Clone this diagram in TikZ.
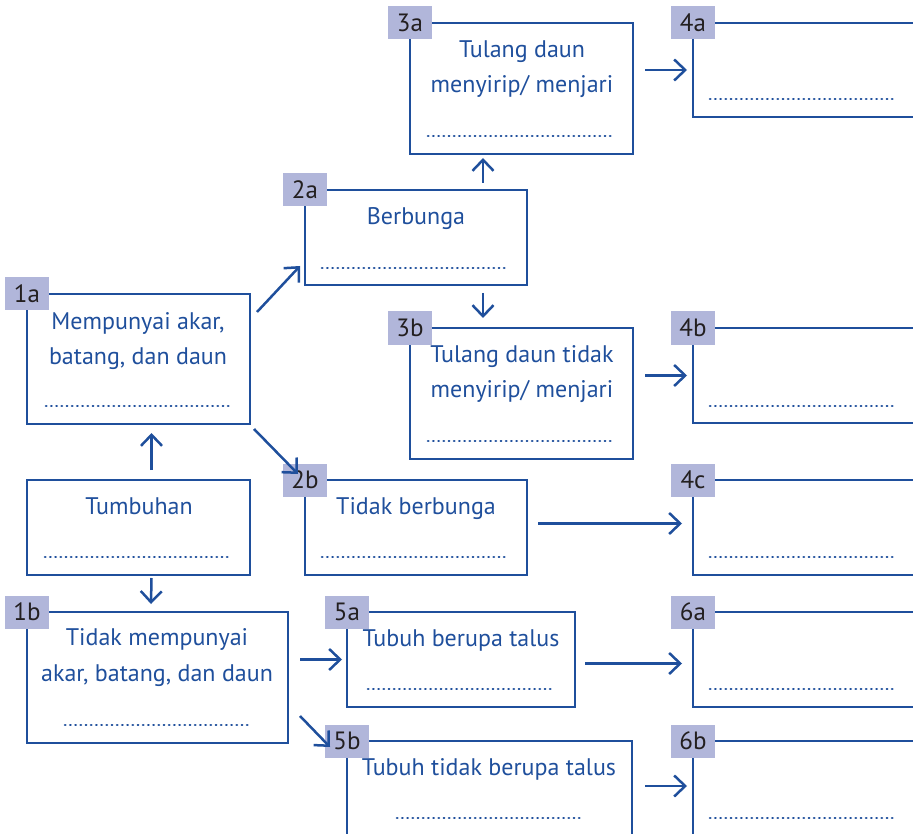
\documentclass[tikz,border=0pt]{standalone}
\usepackage{fontspec}
\setmainfont{PT Sans}
\usetikzlibrary{arrows.meta,calc}
\definecolor{bblue}{HTML}{1F4F9C}
\definecolor{lav}{HTML}{B1B6DA}
\definecolor{lbltxt}{HTML}{231F20}
\begin{document}
\begin{tikzpicture}[x=1pt,y=-1pt,
  box/.style={draw=bblue,line width=2.8pt,rectangle,inner sep=0pt,outer sep=0pt,anchor=north west},
  lbl/.style={fill=lav,minimum width=44pt,minimum height=33pt,inner sep=0pt,text=lbltxt,font=\fontsize{25}{28}\selectfont},
  txt/.style={text=bblue,anchor=base,inner sep=0pt,font=\fontsize{24}{28}\selectfont},
  dots/.style={draw=bblue,line width=2.6pt,line cap=round,dash pattern=on 0.4pt off 4.8pt},
  arr/.style={draw=bblue,line width=2.5pt,-{Straight Barb[length=11pt,width=21pt,line width=2.5pt]}}]
\useasboundingbox (0,0) rectangle (913,834);
\clip (0,0) rectangle (913,834);
% boxes
\node[box,minimum width=223pt,minimum height=131pt] (b3a) at (410,23) {};
\node[box,minimum width=240pt,minimum height=94pt] (b4a) at (693,23) {};
\node[box,minimum width=222pt,minimum height=95pt] (b2a) at (305,190) {};
\node[box,minimum width=223pt,minimum height=130pt] (b1a) at (27,294) {};
\node[box,minimum width=223pt,minimum height=131pt] (b3b) at (410,328) {};
\node[box,minimum width=240pt,minimum height=95pt] (b4b) at (693,328) {};
\node[box,minimum width=223pt,minimum height=95pt] (b0) at (27,480) {};
\node[box,minimum width=222pt,minimum height=95pt] (b2b) at (305,480) {};
\node[box,minimum width=240pt,minimum height=95pt] (b4c) at (693,480) {};
\node[box,minimum width=261pt,minimum height=131pt] (b1b) at (27,612) {};
\node[box,minimum width=228pt,minimum height=95pt] (b5a) at (347,612) {};
\node[box,minimum width=240pt,minimum height=95pt] (b6a) at (693,612) {};
\node[box,minimum width=285pt,minimum height=131pt] (b5b) at (347,741) {};
\node[box,minimum width=240pt,minimum height=100pt] (b6b) at (693,741) {};
% labels
\node[lbl] (l3a) at (b3a.north west) {3a};
\node[lbl] (l4a) at (b4a.north west) {4a};
\node[lbl] (l2a) at (b2a.north west) {2a};
\node[lbl] (l1a) at (b1a.north west) {1a};
\node[lbl] (l3b) at (b3b.north west) {3b};
\node[lbl] (l4b) at (b4b.north west) {4b};
\node[lbl] (l2b) at (b2b.north west) {2b};
\node[lbl] (l4c) at (b4c.north west) {4c};
\node[lbl] (l1b) at (b1b.north west) {1b};
\node[lbl] (l5a) at (b5a.north west) {5a};
\node[lbl] (l6a) at (b6a.north west) {6a};
\node[lbl] (l5b) at (b5b.north west) {5b};
\node[lbl] (l6b) at (b6b.north west) {6b};
% texts
\node[txt] (t3a1) at (522,58) {Tulang daun};
\node[txt] (t3a2) at (522,93) {menyirip/ menjari};
\node[txt] (t2a) at (416,225) {Berbunga};
\node[txt] (t1a1) at (138,330) {Mempunyai akar,};
\node[txt] (t1a2) at (138,364) {batang, dan daun};
\node[txt] (t3b1) at (522,362) {Tulang daun tidak};
\node[txt] (t3b2) at (522,397) {menyirip/ menjari};
\node[txt] (t0) at (139,514) {Tumbuhan};
\node[txt] (t2b) at (416,514) {Tidak berbunga};
\node[txt] (t1b1) at (157,645) {Tidak mempunyai};
\node[txt] (t1b2) at (157,681) {akar, batang, dan daun};
\node[txt] (t5a) at (461,646) {Tubuh berupa talus};
\node[txt] (t5b) at (489,775) {Tubuh tidak berupa talus};
% dotted lines
\draw[dots] (428,136) -- (615,136);
\draw[dots] (710,99) -- (897,99);
\draw[dots] (322,268) -- (509,268);
\draw[dots] (46,406) -- (232,406);
\draw[dots] (428,441) -- (615,441);
\draw[dots] (710,406) -- (897,406);
\draw[dots] (45,557) -- (232,557);
\draw[dots] (322,557) -- (509,557);
\draw[dots] (710,557) -- (897,557);
\draw[dots] (65,725) -- (252,725);
\draw[dots] (368,689) -- (555,689);
\draw[dots] (710,689) -- (897,689);
\draw[dots] (397,818) -- (583,818);
\draw[dots] (710,818) -- (897,818);
% arrows
\draw[arr,shorten <=12pt,shorten >=6pt] (b3a.east |- b4a.west) -- (b4a.west);
\draw[arr,shorten <=7pt,shorten >=4pt] ($(b2a.north west)+(178,0)$) -- ($(b3a.south west)+(73,0)$);
\draw[arr,shorten <=8pt,shorten >=10pt] ($(b2a.south west)+(178,0)$) -- ($(b3b.north west)+(73,0)$);
\draw[arr,shorten <=12pt,shorten >=6pt] (b3b.east |- b4b.west) -- (b4b.west);
\draw[arr] ($(b1a.north east)+(7,18)$) -- ($(b2a.south west)+(-5,-19)$);
\draw[arr] ($(b1a.south east)+(4,5)$) -- ($(b2b.north west)+(-7,-6)$);
\draw[arr] ($(b0.north)+(13,-10)$) -- ($(b1a.south)+(13,9)$);
\draw[arr] ($(b0.south)+(13,3)$) -- ($(b1b.north west)+(124,-8)$);
\draw[arr] ($(b2b.east)+(11,-4)$) -- ($(b4c.west)+(-11,-4)$);
\draw[arr,shorten <=12pt,shorten >=5pt] (b1b.east |- b5a.west) -- (b5a.west);
\draw[arr] ($(b1b.south east)+(12,-27)$) -- ($(b5b.north west)+(-17,6)$);
\draw[arr] ($(b5a.east)+(10,4)$) -- ($(b6a.west)+(-11,4)$);
\draw[arr] ($(b5b.north east)+(13,45)$) -- ($(b6b.north west)+(-6,45)$);
\end{tikzpicture}
\end{document}
